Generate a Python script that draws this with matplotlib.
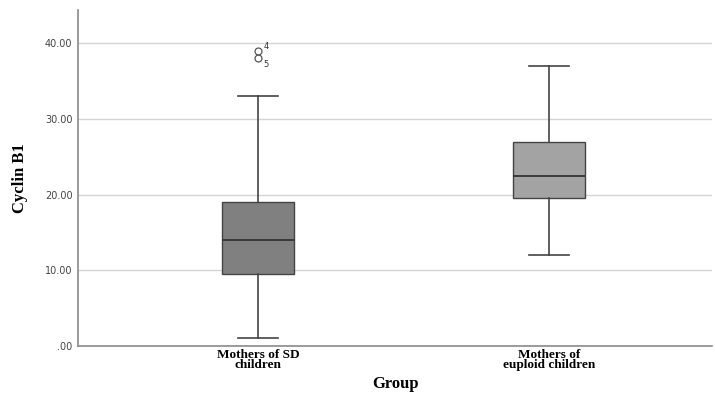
import matplotlib
matplotlib.use("Agg")
from matplotlib import pyplot as plt

# Box plot summaries
groups = ["Mothers of SD\nchildren", "Mothers of\neuploid children"]
whisker_low = [1.0, 12.0]
q1 = [9.5, 19.5]
median = [14.0, 22.5]
q3 = [19.0, 27.0]
whisker_high = [33.0, 37.0]
outliers = [[38.0, 39.0], []]
outlier_ids = [["5", "4"], []]
box_colors = ["#808080", "#a3a3a3"]

stats = []
for i, name in enumerate(groups):
    stats.append({
        "label": name,
        "whislo": whisker_low[i],
        "q1": q1[i],
        "med": median[i],
        "q3": q3[i],
        "whishi": whisker_high[i],
        "fliers": outliers[i],
    })

fig = plt.figure(figsize=(7.15, 3.94), dpi=100)
ax = fig.add_axes([0.109, 0.122, 0.887, 0.853])

positions = [1, 2]
bp = ax.bxp(
    stats,
    positions=positions,
    widths=0.25,
    patch_artist=True,
    boxprops=dict(edgecolor="#444444", linewidth=1.0),
    medianprops=dict(color="#333333", linewidth=1.3),
    whiskerprops=dict(color="#444444", linewidth=1.2),
    capprops=dict(color="#444444", linewidth=1.2),
    flierprops=dict(marker="o", markerfacecolor="none", markeredgecolor="#555555",
                    markersize=5, markeredgewidth=0.9),
    capwidths=0.14,
    zorder=3,
)
for patch, color in zip(bp["boxes"], box_colors):
    patch.set_facecolor(color)

for i, (vals, ids) in enumerate(zip(outliers, outlier_ids)):
    for v, lab in zip(vals, ids):
        ax.annotate(lab, (positions[i], v), textcoords="offset points",
                    xytext=(4, 1 if lab == "4" else -6), fontsize=6, color="#333333")

ax.set_xlim(0.381, 2.561)
ax.set_ylim(0, 44.4)
ax.set_yticks([0, 10, 20, 30, 40])
ax.set_yticklabels([".00", "10.00", "20.00", "30.00", "40.00"])
ax.yaxis.grid(True, color="#d4d4d4", linewidth=1.0, zorder=0)
ax.set_axisbelow(True)
ax.tick_params(axis="y", length=0, labelsize=7, labelcolor="#444444", pad=4)
ax.tick_params(axis="x", length=0, pad=2)
ax.set_xticks(positions)
ax.set_xticklabels(groups, family="Liberation Serif", fontweight="bold",
                   fontsize=9.5, linespacing=0.85)

for side in ["top", "right"]:
    ax.spines[side].set_visible(False)
for side in ["left", "bottom"]:
    ax.spines[side].set_color("#8a8a8a")
    ax.spines[side].set_linewidth(1.2)

ax.set_ylabel("Cyclin B1", family="Liberation Serif", fontweight="bold",
              fontsize=12, labelpad=12)
ax.set_xlabel("Group", family="Liberation Serif", fontweight="bold",
              fontsize=12, labelpad=3)

fig.savefig("out.png", dpi=100)
